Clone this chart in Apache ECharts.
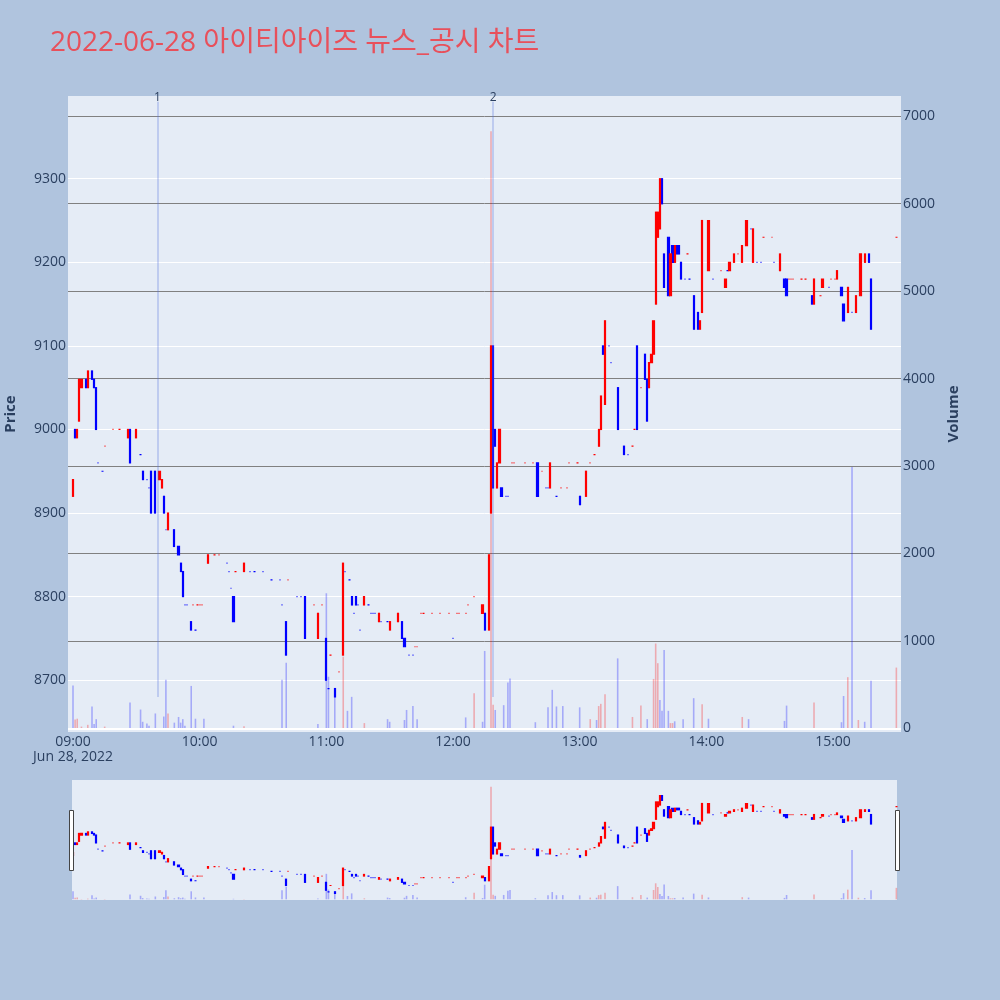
<!DOCTYPE html>
<html>
<head>
<meta charset="utf-8">
<script src="https://cdn.jsdelivr.net/npm/echarts@6.0.0/dist/echarts.min.js"></script>
<style>
html,body{margin:0;padding:0;background:#b0c4de;}
#chart{width:1000px;height:1000px;}
</style>
</head>
<body>
<div id="chart"></div>
<script>
// ---------------- data ----------------
const chartTitle = '2022-06-28 아이티아이즈 뉴스_공시 차트';
const xTickLabels = ['09:00','10:00','11:00','12:00','13:00','14:00','15:00'];
const dateLabel = 'Jun 28, 2022';
const priceTicks = [8700,8800,8900,9000,9100,9200,9300];
const volumeTicks = [0,1000,2000,3000,4000,5000,6000,7000];
const eventTimes = ['09:40','12:19'];
const eventLabels = ['1','2'];

const candleTime = [
'09:00','09:01','09:02','09:03','09:04','09:06','09:07','09:09','09:10','09:11',
'09:12','09:14','09:15','09:19','09:22','09:26','09:27','09:30','09:32','09:33',
'09:35','09:36','09:37','09:39','09:41','09:42','09:43','09:44','09:45','09:48',
'09:50','09:51','09:52','09:53','09:54','09:56','09:57','09:58','09:59','10:00',
'10:01','10:04','10:07','10:09','10:13','10:14','10:15','10:16','10:17','10:21',
'10:24','10:26','10:30','10:34','10:38','10:39','10:41','10:42','10:46','10:48',
'10:50','10:54','10:56','10:58','11:00','11:01','11:02','11:04','11:06','11:08',
'11:09','11:11','11:12','11:13','11:14','11:15','11:16','11:18','11:20','11:21',
'11:22','11:23','11:25','11:26','11:29','11:30','11:34','11:36','11:37','11:39',
'11:41','11:42','11:43','11:45','11:46','11:50','11:54','11:58','12:00','12:02',
'12:03','12:06','12:07','12:10','12:14','12:15','12:17','12:18','12:19','12:20',
'12:21','12:22','12:23','12:25','12:26','12:28','12:29','12:34','12:38','12:40',
'12:42','12:44','12:45','12:46','12:49','12:51','12:54','12:55','12:59','13:00',
'13:03','13:05','13:07','13:09','13:10','13:11','13:12','13:14','13:15','13:18',
'13:21','13:23','13:25','13:26','13:27','13:29','13:31','13:32','13:33','13:34',
'13:35','13:36','13:37','13:38','13:39','13:40','13:42','13:43','13:44','13:45',
'13:46','13:47','13:48','13:50','13:51','13:52','13:54','13:56','13:57','13:58',
'14:01','14:03','14:07','14:09','14:10','14:11','14:13','14:15','14:17','14:19',
'14:21','14:22','14:24','14:26','14:27','14:31','14:32','14:35','14:37','14:38',
'14:39','14:40','14:41','14:45','14:47','14:50','14:51','14:54','14:55','14:58',
'14:59','15:01','15:02','15:04','15:05','15:07','15:09','15:11','15:13','15:15',
'15:17','15:18','15:30'];
const candleOpen = [
8920,9000,8990,9010,9050,9060,9050,9070,9060,9050,
8960,8950,8980,9000,9000,8990,9000,8990,8970,8950,
8940,8930,8950,8950,8940,8930,8920,8880,8880,8880,
8860,8840,8830,8790,8790,8770,8790,8760,8790,8790,
8790,8840,8850,8850,8840,8830,8810,8800,8830,8830,
8830,8830,8830,8820,8820,8790,8770,8820,8800,8800,
8800,8790,8750,8790,8750,8690,8730,8690,8710,8730,
8830,8820,8800,8780,8800,8790,8760,8790,8790,8780,
8780,8780,8770,8770,8770,8760,8770,8770,8750,8730,
8730,8740,8740,8780,8780,8780,8780,8780,8750,8780,
8780,8780,8790,8800,8780,8780,8760,8900,9100,9000,
8930,8960,8930,8920,8920,8960,8960,8960,8960,8960,
8950,8930,8930,8930,8920,8930,8930,8960,8960,8920,
8920,8960,8970,8980,9000,9100,9030,9100,9080,9050,
8980,8970,8980,9000,9100,9050,9090,9060,9050,9080,
9090,9150,9230,9240,9300,9210,9230,9160,9220,9200,
9220,9220,9200,9180,9210,9180,9160,9140,9120,9140,
9190,9180,9190,9170,9190,9190,9200,9210,9200,9220,
9240,9200,9200,9200,9230,9230,9200,9190,9180,9180,
9180,9180,9180,9180,9180,9160,9150,9160,9170,9170,
9180,9180,9180,9170,9150,9140,9140,9140,9160,9200,
9210,9180,9230];
const candleClose = [
8940,8990,9000,9060,9060,9050,9070,9060,9050,9000,
8960,8950,8980,9000,9000,9000,8960,9000,8970,8940,
8940,8930,8900,8900,8950,8940,8900,8880,8900,8860,
8850,8830,8800,8790,8790,8760,8790,8760,8790,8790,
8790,8850,8850,8850,8840,8830,8810,8770,8830,8840,
8830,8830,8830,8820,8820,8790,8730,8820,8800,8800,
8750,8790,8780,8790,8700,8690,8730,8680,8710,8840,
8830,8820,8790,8780,8790,8790,8760,8800,8790,8780,
8780,8780,8780,8770,8770,8770,8780,8750,8740,8730,
8730,8740,8740,8780,8780,8780,8780,8780,8750,8780,
8780,8780,8790,8800,8790,8760,8850,9100,8930,8980,
8960,9000,8920,8920,8920,8960,8960,8960,8960,8920,
8950,8930,8930,8960,8920,8930,8930,8960,8960,8910,
8950,8960,8970,9000,9040,9090,9130,9100,9080,9000,
8970,8970,8980,9000,9000,9050,9060,9010,9080,9090,
9130,9260,9260,9300,9270,9170,9160,9210,9200,9220,
9210,9210,9180,9180,9210,9180,9120,9120,9130,9250,
9250,9180,9190,9180,9190,9200,9210,9210,9220,9250,
9240,9240,9200,9200,9230,9230,9200,9210,9170,9160,
9180,9180,9180,9180,9180,9150,9180,9160,9180,9170,
9180,9180,9190,9160,9130,9170,9140,9160,9210,9210,
9200,9120,9230];
const candleLow = [
8920,8990,8990,9010,9050,9050,9050,9060,9050,9000,
8960,8950,8980,9000,9000,8990,8960,8990,8970,8940,
8940,8930,8900,8900,8940,8930,8900,8880,8880,8860,
8850,8830,8800,8790,8790,8760,8790,8760,8790,8790,
8790,8840,8850,8850,8840,8830,8810,8770,8830,8830,
8830,8830,8830,8820,8820,8790,8730,8820,8800,8800,
8750,8790,8750,8790,8700,8690,8730,8680,8710,8730,
8830,8820,8790,8780,8790,8790,8760,8790,8790,8780,
8780,8780,8770,8770,8770,8760,8770,8750,8740,8730,
8730,8740,8740,8780,8780,8780,8780,8780,8750,8780,
8780,8780,8790,8800,8780,8760,8760,8900,8930,8980,
8930,8960,8920,8920,8920,8960,8960,8960,8960,8920,
8950,8930,8930,8930,8920,8930,8930,8960,8960,8910,
8920,8960,8970,8980,9000,9090,9030,9100,9080,9000,
8970,8970,8980,9000,9000,9050,9060,9010,9050,9080,
9090,9150,9230,9240,9270,9170,9160,9160,9200,9200,
9210,9210,9180,9180,9210,9180,9120,9120,9120,9140,
9190,9180,9190,9170,9190,9190,9200,9210,9200,9220,
9240,9200,9200,9200,9230,9230,9200,9190,9170,9160,
9180,9180,9180,9180,9180,9150,9150,9160,9170,9170,
9180,9180,9180,9160,9130,9140,9140,9140,9160,9200,
9200,9120,9230];
const candleHigh = [
8940,9000,9000,9060,9060,9060,9070,9070,9060,9050,
8960,8950,8980,9000,9000,9000,9000,9000,8970,8950,
8940,8930,8950,8950,8950,8940,8920,8880,8900,8880,
8860,8840,8830,8790,8790,8770,8790,8760,8790,8790,
8790,8850,8850,8850,8840,8830,8810,8800,8830,8840,
8830,8830,8830,8820,8820,8790,8770,8820,8800,8800,
8800,8790,8780,8790,8750,8690,8730,8690,8710,8840,
8830,8820,8800,8780,8800,8790,8760,8800,8790,8780,
8780,8780,8780,8770,8770,8770,8780,8770,8750,8730,
8730,8740,8740,8780,8780,8780,8780,8780,8750,8780,
8780,8780,8790,8800,8790,8780,8850,9100,9100,9000,
8960,9000,8930,8920,8920,8960,8960,8960,8960,8960,
8950,8930,8930,8960,8920,8930,8930,8960,8960,8920,
8950,8960,8970,9000,9040,9100,9130,9100,9080,9050,
8980,8970,8980,9000,9100,9050,9090,9060,9080,9090,
9130,9260,9260,9300,9300,9210,9230,9210,9220,9220,
9220,9220,9200,9180,9210,9180,9160,9140,9130,9250,
9250,9180,9190,9180,9190,9200,9210,9210,9220,9250,
9240,9240,9200,9200,9230,9230,9200,9210,9180,9180,
9180,9180,9180,9180,9180,9160,9180,9160,9180,9170,
9180,9180,9190,9170,9150,9170,9140,9160,9210,9210,
9210,9180,9230];
// 1 = rising (red), -1 = falling (blue)
const candleDir = [
1,-1,1,1,1,-1,1,-1,-1,-1,
-1,-1,1,1,1,1,-1,1,-1,-1,
-1,-1,-1,-1,1,1,-1,-1,1,-1,
-1,-1,-1,-1,-1,-1,1,-1,1,1,
1,1,1,1,-1,-1,-1,-1,1,1,
-1,-1,-1,-1,-1,-1,-1,1,-1,-1,
-1,1,1,1,-1,-1,1,-1,1,1,
-1,-1,-1,-1,-1,-1,-1,1,-1,-1,
-1,-1,1,-1,-1,1,1,-1,-1,-1,
-1,1,1,1,1,1,1,1,-1,1,
1,1,1,1,1,-1,1,1,-1,-1,
1,1,-1,-1,-1,1,1,1,1,-1,
1,-1,-1,1,-1,1,1,1,1,-1,
1,1,1,1,1,-1,1,-1,-1,-1,
-1,-1,1,1,-1,1,-1,-1,1,1,
1,1,1,1,-1,-1,-1,1,-1,1,
-1,-1,-1,-1,1,-1,-1,-1,1,1,
1,-1,1,1,-1,1,1,1,1,1,
-1,1,-1,-1,1,1,-1,1,-1,-1,
1,1,1,1,1,-1,1,1,1,-1,
1,1,1,-1,-1,1,-1,1,1,1,
-1,-1,1];

const volTime = [
'09:00','09:01','09:02','09:04','09:07','09:09','09:10','09:11','09:15','09:27',
'09:32','09:33','09:35','09:36','09:39','09:43','09:44','09:45','09:48','09:50',
'09:51','09:52','09:53','09:56','09:58','10:02','10:16','10:21','10:39','10:41',
'10:56','11:00','11:01','11:04','11:08','11:10','11:12','11:18','11:29','11:30',
'11:37','11:38','11:41','11:43','12:06','12:10','12:14','12:15','12:18','12:19',
'12:20','12:24','12:26','12:27','12:39','12:45','12:47','12:49','12:52','13:00',
'13:05','13:08','13:09','13:10','13:12','13:18','13:25','13:29','13:32','13:35',
'13:36','13:37','13:38','13:39','13:40','13:42','13:43','13:44','13:45','13:49',
'13:54','13:58','14:01','14:17','14:20','14:37','14:38','14:51','15:04','15:05',
'15:07','15:09','15:12','15:15','15:18','15:30'];
const volValue = [
490,100,110,20,40,250,50,105,20,295,
215,75,55,30,170,135,555,170,65,130,
65,105,30,485,110,110,30,25,555,750,
50,1545,590,455,820,200,360,60,105,75,
95,210,255,105,125,400,75,885,6830,270,
210,265,525,570,70,240,440,250,255,240,
105,95,255,280,390,800,130,260,105,565,
970,745,325,200,895,200,60,60,80,105,
345,275,110,130,105,85,260,295,70,370,
585,2990,95,75,545,695];
const volDir = [
-1,1,1,1,1,-1,-1,-1,1,-1,
-1,-1,-1,-1,-1,-1,-1,1,-1,-1,
-1,-1,-1,-1,-1,-1,-1,1,-1,-1,
-1,-1,-1,-1,1,-1,-1,1,-1,-1,
-1,-1,-1,-1,-1,1,-1,-1,1,1,
-1,-1,-1,-1,-1,-1,-1,-1,-1,-1,
1,-1,1,1,1,-1,1,1,-1,1,
1,1,-1,-1,-1,-1,1,1,-1,-1,
-1,1,-1,1,-1,-1,-1,1,-1,-1,
1,-1,1,-1,-1,1];

// ---------------- build ----------------
const toMin = t => { const p = t.split(':'); return (+p[0] - 9) * 60 + (+p[1]); };
const upC = [], downC = [];
candleTime.forEach((t, i) => {
  const row = [toMin(t), candleOpen[i], candleClose[i], candleLow[i], candleHigh[i]];
  (candleDir[i] > 0 ? upC : downC).push(row);
});
const upV = [], downV = [];
volTime.forEach((t, i) => {
  (volDir[i] > 0 ? upV : downV).push([toMin(t), volValue[i]]);
});
const hourTicks = xTickLabels.map(toMin);
const dayLow = Math.min.apply(null, candleLow);

const X_MIN = -2.37, X_MAX = 392.2;
const P_MIN = 8638, P_MAX = 9399;
const V_MIN = -42, V_MAX = 7232;
const EVENT_TOP = 9392;
const pxPerMin = 833 / (X_MAX - X_MIN);
const SX_MIN = X_MIN + 4 / pxPerMin, SX_MAX = X_MAX - 4 / pxPerMin;

const RED = '#ff0000', BLUE = '#0000ff';
const FONT = '"Open Sans", "Noto Sans CJK KR", sans-serif';
const TXT = '#2a3f5f';
const plain = v => String(v);

function candleSeries(data, col, xi, yi, extra) {
  return Object.assign({
    type: 'candlestick', xAxisIndex: xi, yAxisIndex: yi, data: data,
    encode: { x: 0, y: [1, 2, 3, 4] },
    barWidth: 1.8,
    itemStyle: { color: col, color0: col, borderColor: col, borderColor0: col, borderColorDoji: col, borderWidth: 1.2 },
    z: 3, silent: true
  }, extra || {});
}
function volSeries(data, col, xi, yi, extra) {
  return Object.assign({
    type: 'bar', xAxisIndex: xi, yAxisIndex: yi, data: data,
    barWidth: 1.6, barGap: '-100%',
    itemStyle: { color: col }, z: 2, silent: true
  }, extra || {});
}

const chart = echarts.init(document.getElementById('chart'), null, { renderer: 'canvas', width: 1000, height: 1000 });
const option = {
  animation: false,
  backgroundColor: '#b0c4de',
  textStyle: { fontFamily: FONT },
  title: {
    text: chartTitle, left: 50, top: 29, padding: 0,
    textStyle: { fontSize: 28, fontWeight: 'normal', color: '#e8505b', fontFamily: FONT }
  },
  grid: [
    { left: 68, right: 99, top: 96, bottom: 268, show: true, backgroundColor: '#e5ecf6', borderWidth: 0, outerBoundsMode: 'none' },
    { left: 72, right: 103, top: 780, bottom: 100, show: true, backgroundColor: '#e5ecf6', borderWidth: 0, outerBoundsMode: 'none' }
  ],
  xAxis: [
    {
      type: 'value', gridIndex: 0, min: X_MIN, max: X_MAX,
      axisLine: { show: false }, axisTick: { show: false, customValues: hourTicks },
      splitLine: { show: false },
      axisLabel: {
        customValues: hourTicks, fontSize: 14, color: TXT, margin: 3, lineHeight: 15, fontFamily: FONT,
        formatter: v => { const i = hourTicks.indexOf(v); const s = i >= 0 ? xTickLabels[i] : ''; return i === 0 ? s + '\n' + dateLabel : s; }
      }
    },
    { type: 'value', gridIndex: 1, min: SX_MIN, max: SX_MAX, show: false, splitLine: { show: false } }
  ],
  yAxis: [
    {
      type: 'value', gridIndex: 0, position: 'left', min: P_MIN, max: P_MAX,
      axisLine: { show: false }, axisTick: { show: false, customValues: priceTicks },
      axisLabel: { customValues: priceTicks, fontSize: 14, color: TXT, margin: 2, fontFamily: FONT, formatter: plain },
      splitLine: { show: true, lineStyle: { color: '#ffffff', width: 1 } },
      name: 'Price', nameLocation: 'middle', nameGap: 50, nameRotate: 90,
      nameTextStyle: { fontSize: 15, fontWeight: 'bold', color: TXT, fontFamily: FONT }
    },
    {
      type: 'value', gridIndex: 0, position: 'right', min: V_MIN, max: V_MAX,
      axisLine: { show: false }, axisTick: { show: false, customValues: volumeTicks },
      axisLabel: { customValues: volumeTicks, fontSize: 14, color: TXT, margin: 2, fontFamily: FONT, formatter: plain },
      splitLine: { show: true, lineStyle: { color: '#808080', width: 1 } },
      name: 'Volume', nameLocation: 'middle', nameGap: 45, nameRotate: 90,
      nameTextStyle: { fontSize: 15, fontWeight: 'bold', color: TXT, fontFamily: FONT }
    },
    { type: 'value', gridIndex: 1, min: P_MIN, max: P_MAX, show: false, splitLine: { show: false } },
    { type: 'value', gridIndex: 1, min: V_MIN, max: V_MAX, show: false, splitLine: { show: false } }
  ],
  series: [
    volSeries(downV, 'rgba(0,0,255,0.28)', 0, 1),
    volSeries(upV, 'rgba(255,0,0,0.28)', 0, 1, {
      markLine: {
        silent: true, symbol: ['none', 'none'], animation: false,
        label: { show: false },
        lineStyle: { color: '#ffffff', width: 2, type: 'solid' },
        data: [{ yAxis: 0 }]
      }
    }),
    candleSeries(downC, BLUE, 0, 0),
    candleSeries(upC, RED, 0, 0, {
      markLine: {
        silent: true, symbol: ['none', 'none'], animation: false,
        lineStyle: { color: 'rgba(80,110,220,0.35)', width: 1.5, type: 'solid' },
        label: { show: true, position: 'end', distance: -2, formatter: '{b}', color: TXT, fontSize: 12, fontFamily: FONT },
        data: eventTimes.map((t, i) => [
          { coord: [toMin(t), dayLow], name: eventLabels[i] },
          { coord: [toMin(t), EVENT_TOP] }
        ])
      }
    }),
    volSeries(downV, 'rgba(0,0,255,0.28)', 1, 3),
    volSeries(upV, 'rgba(255,0,0,0.28)', 1, 3),
    candleSeries(downC, BLUE, 1, 2),
    candleSeries(upC, RED, 1, 2)
  ],
  graphic: [
    { type: 'rect', z: 100, shape: { x: 69.5, y: 810.5, width: 4, height: 60 }, style: { fill: '#ffffff', stroke: '#444444', lineWidth: 1 } },
    { type: 'rect', z: 100, shape: { x: 895.5, y: 810.5, width: 4, height: 60 }, style: { fill: '#ffffff', stroke: '#444444', lineWidth: 1 } }
  ]
};
chart.setOption(option);
</script>
</body>
</html>
